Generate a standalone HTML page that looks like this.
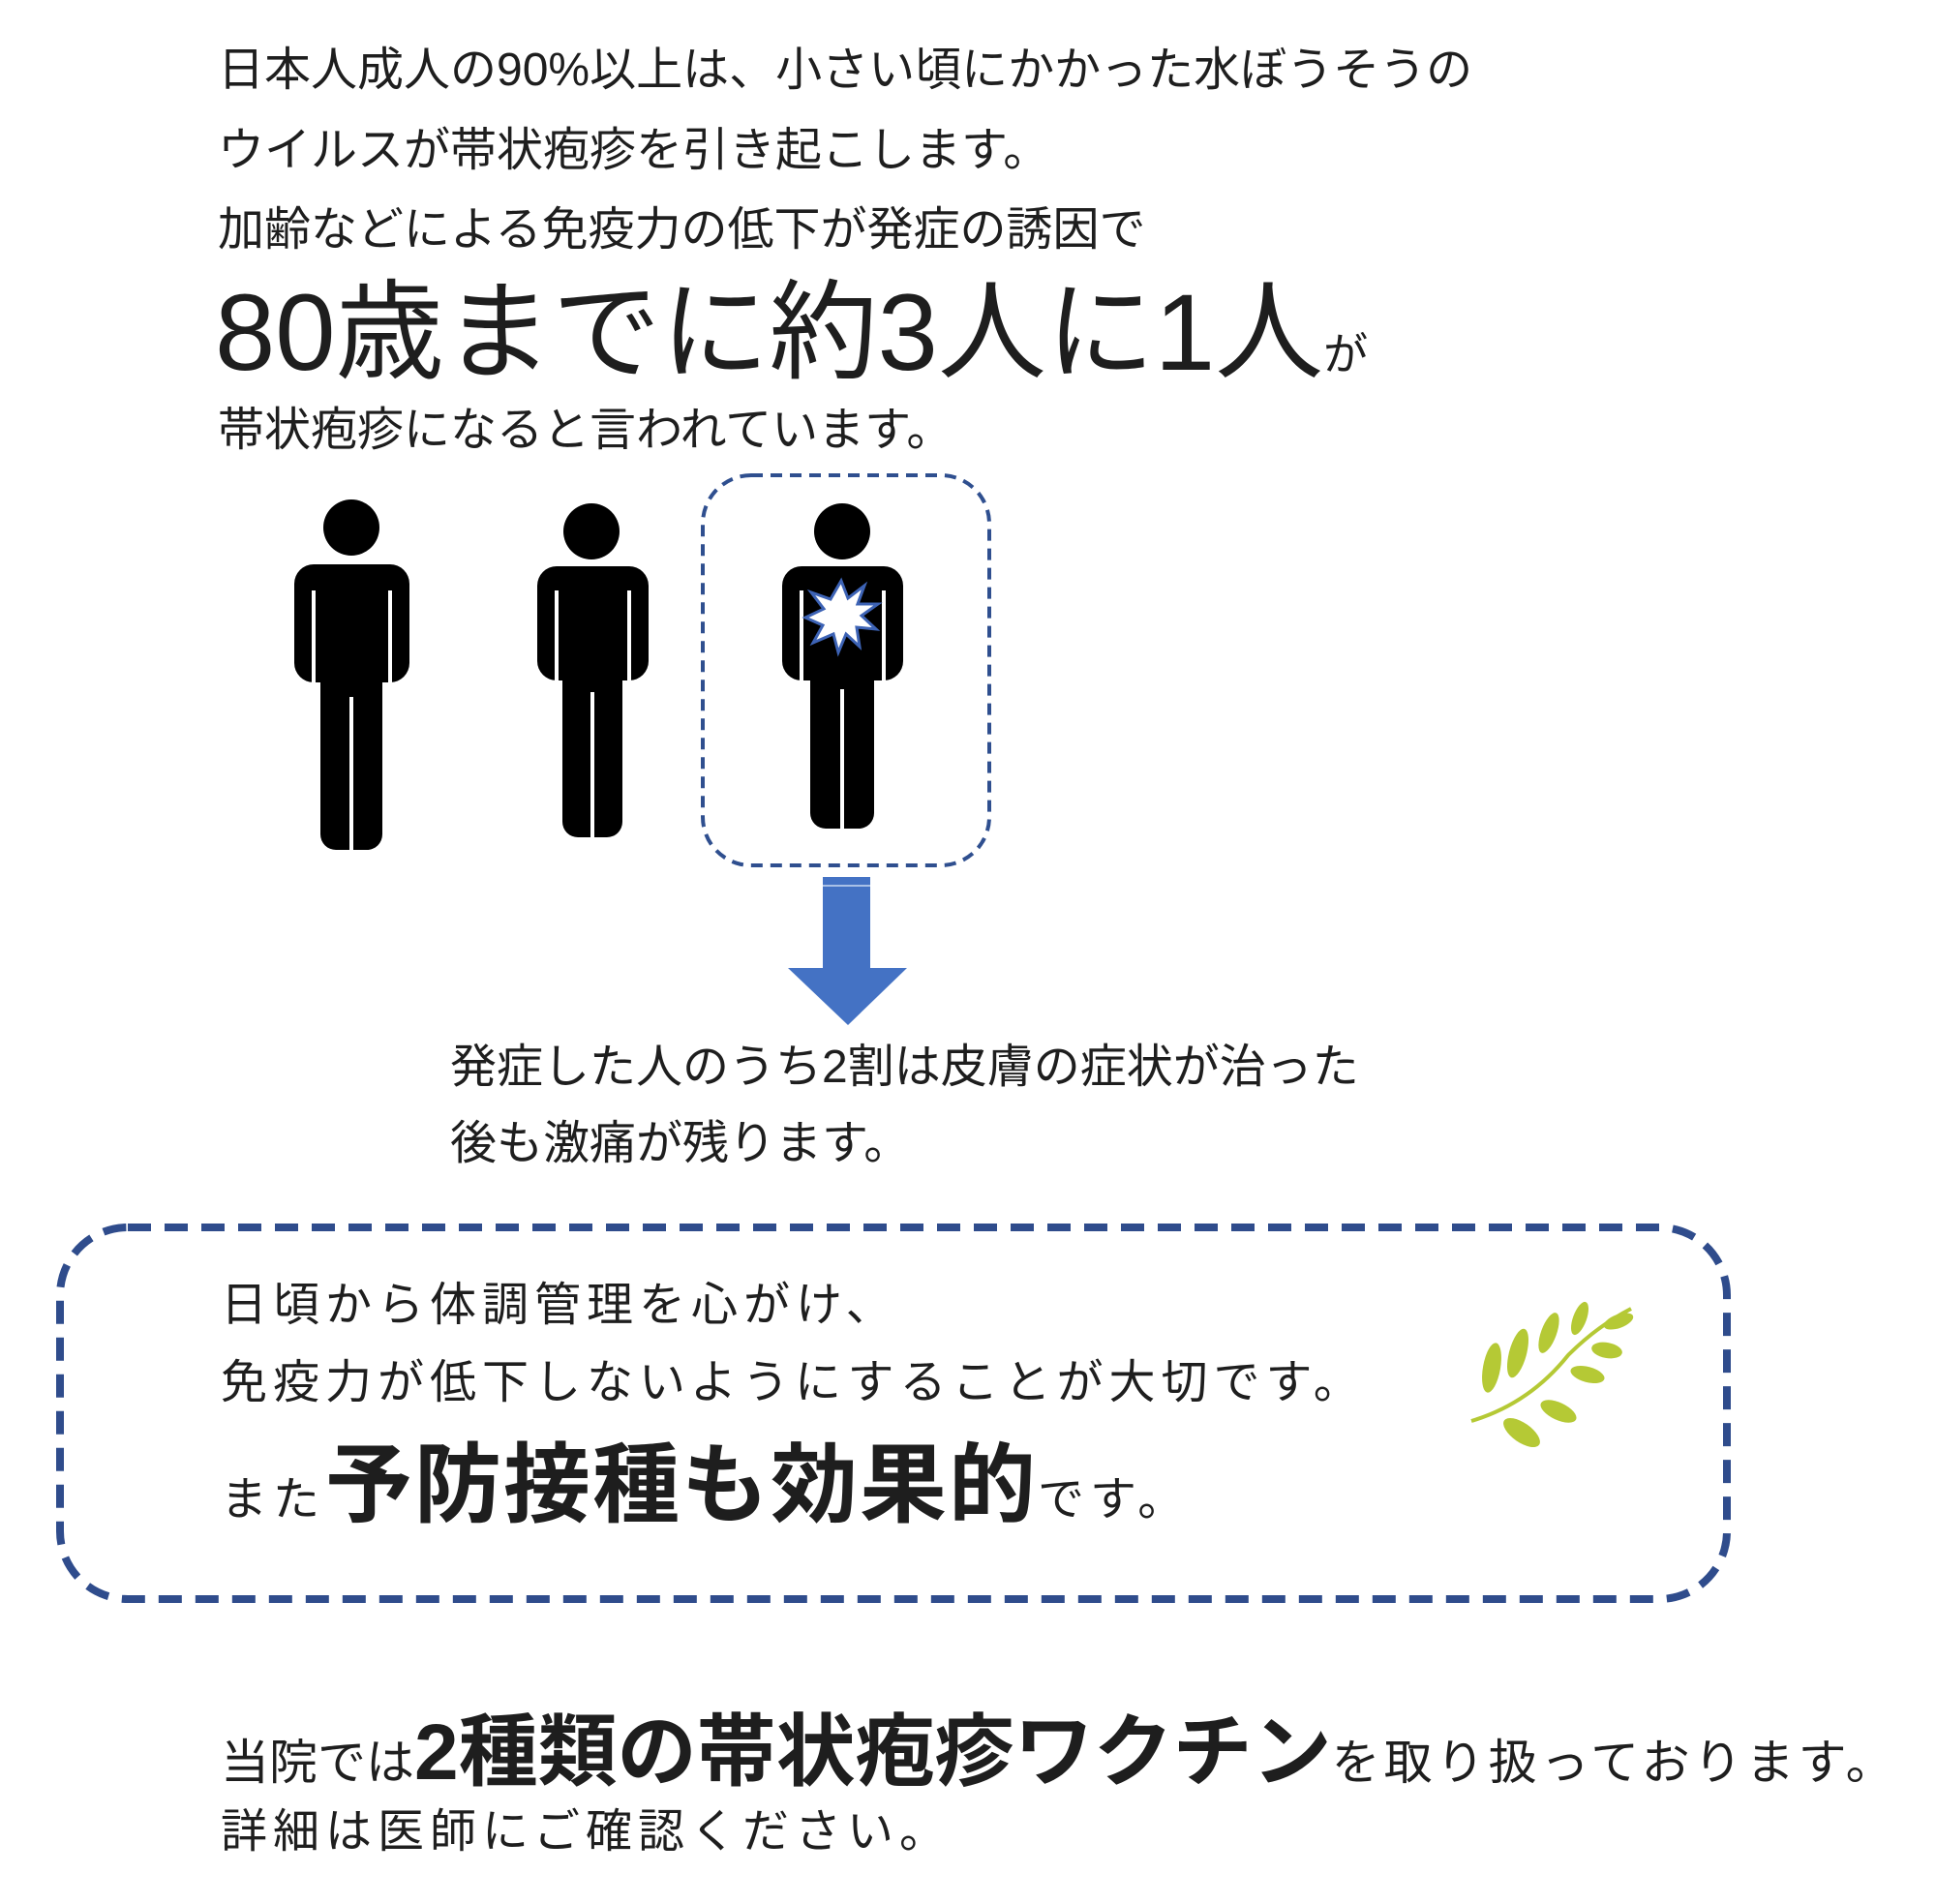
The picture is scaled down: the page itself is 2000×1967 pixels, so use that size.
<!DOCTYPE html>
<html><head><meta charset="utf-8"><style>
html,body{margin:0;padding:0;background:#fff;}
body{width:2000px;height:1967px;position:relative;overflow:hidden;font-family:"Liberation Sans","Noto Sans CJK JP",sans-serif;color:#1e1e1e;}
.t{position:absolute;white-space:nowrap;line-height:1;}
</style></head><body>
<div class="t" style="left:225px;top:49px;font-size:48px;">日本人成人の90%以上は、小さい頃にかかった水ぼうそうの</div>
<div class="t" style="left:225px;top:132px;font-size:48px;">ウイルスが帯状疱疹を引き起こします。</div>
<div class="t" style="left:225px;top:214px;font-size:48px;">加齢などによる免疫力の低下が発症の誘因で</div>
<div class="t" style="left:222px;top:288px;font-size:112px;">80歳までに約3人に1人<span style="font-size:46px;">が</span></div>
<div class="t" style="left:225px;top:421px;font-size:48px;">帯状疱疹になると言われています。</div>

<svg style="position:absolute;left:0;top:0" width="2000" height="1967">
 <g fill="#000">
  <circle cx="363" cy="545" r="29"/>
  <rect x="304" y="583" width="119" height="122" rx="20"/>
  <rect x="331" y="583" width="64" height="295" rx="16"/>
  <circle cx="611" cy="549" r="29"/>
  <rect x="555" y="585" width="115" height="118" rx="20"/>
  <rect x="581" y="585" width="62" height="280" rx="16"/>
  <circle cx="870" cy="549" r="29"/>
  <rect x="808" y="585" width="125" height="118" rx="20"/>
  <rect x="837" y="585" width="66" height="271" rx="16"/>
 </g>
 <g stroke="#fff" stroke-width="4">
  <line x1="363" y1="720" x2="363" y2="880"/>
  <line x1="612" y1="715" x2="612" y2="868"/>
  <line x1="870" y1="712" x2="870" y2="858"/>
  <line x1="324" y1="610" x2="324" y2="706"/><line x1="403" y1="610" x2="403" y2="706"/>
  <line x1="575" y1="610" x2="575" y2="704"/><line x1="650" y1="610" x2="650" y2="704"/>
  <line x1="828" y1="610" x2="828" y2="704"/><line x1="913" y1="610" x2="913" y2="704"/>
 </g>
 <polygon fill="#fff" stroke="#3d63b5" stroke-width="3" points="869,600 876,618 893,605 886,624 907,624 890,636 905,650 885,648 888,668 874,655 866,674 861,655 840,664 850,646 832,638 851,629 838,612 858,619"/>
 <rect x="726" y="491" width="296" height="403" rx="50" fill="none" stroke="#2f4f8f" stroke-width="4" stroke-dasharray="12 8"/>
 <rect x="850" y="906" width="49" height="95" fill="#4472c4"/>
 <line x1="850" y1="915" x2="899" y2="915" stroke="#a9c0e6" stroke-width="2"/>
 <polygon points="814,1000 937,1000 876,1059" fill="#4472c4"/>
 <rect x="62" y="1268" width="1722" height="384" rx="70" fill="none" stroke="#2f4c8c" stroke-width="8" stroke-dasharray="24 14"/>
 <g fill="#b5c935">
  <path d="M1520 1468 Q1580 1450 1620 1400 Q1650 1370 1685 1352" stroke="#b5c935" stroke-width="4" fill="none"/>
  <ellipse cx="1541" cy="1413" rx="9" ry="26" transform="rotate(10 1541 1413)"/>
  <ellipse cx="1568" cy="1398" rx="9" ry="26" transform="rotate(15 1568 1398)"/>
  <ellipse cx="1600" cy="1377" rx="8" ry="22" transform="rotate(20 1600 1377)"/>
  <ellipse cx="1632" cy="1362" rx="7" ry="18" transform="rotate(20 1632 1362)"/>
  <ellipse cx="1572" cy="1480" rx="22" ry="10" transform="rotate(35 1572 1480)"/>
  <ellipse cx="1610" cy="1458" rx="20" ry="9" transform="rotate(25 1610 1458)"/>
  <ellipse cx="1640" cy="1420" rx="18" ry="8" transform="rotate(15 1640 1420)"/>
  <ellipse cx="1660" cy="1395" rx="16" ry="8" transform="rotate(10 1660 1395)"/>
  <ellipse cx="1672" cy="1365" rx="16" ry="7" transform="rotate(-20 1672 1365)"/>
 </g>
</svg>

<div class="t" style="left:465px;top:1079px;font-size:48px;">発症した人のうち2割は皮膚の症状が治った</div>
<div class="t" style="left:465px;top:1158px;font-size:48px;">後も激痛が残ります。</div>

<div class="t" style="left:228px;top:1325px;font-size:48px;letter-spacing:6px;">日頃から体調管理を心がけ、</div>
<div class="t" style="left:228px;top:1405px;font-size:48px;letter-spacing:6px;">免疫力が低下しないようにすることが大切です。</div>
<div class="t" style="left:228px;top:1490px;font-size:48px;letter-spacing:6px;"><span>また</span><span style="font-size:90px;font-weight:bold;letter-spacing:2px;">予防接種も効果的</span><span>です。</span></div>

<div class="t" style="left:228px;top:1770px;font-size:50px;"><span>当院では</span><span style="font-size:82px;font-weight:bold;">2種類の帯状疱疹ワクチン</span><span style="letter-spacing:4px;">を取り扱っております。</span></div>
<div class="t" style="left:228px;top:1869px;font-size:48px;letter-spacing:6px;">詳細は医師にご確認ください。</div>
</body></html>
